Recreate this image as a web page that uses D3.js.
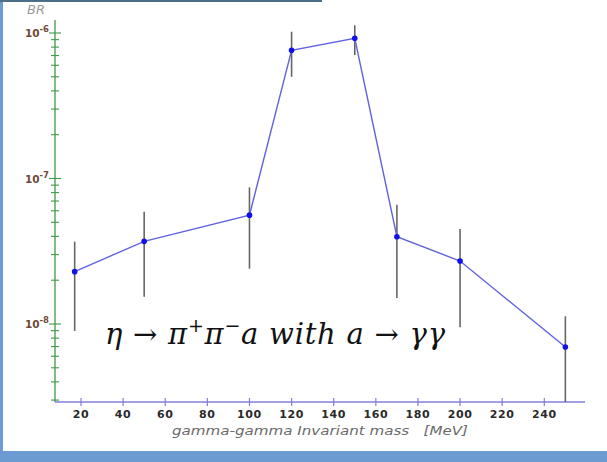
<!DOCTYPE html>
<html><head><meta charset="utf-8">
<script src="https://cdn.jsdelivr.net/npm/d3@7"></script>
<style>body{margin:0;background:#fff}svg{display:block}</style>
</head><body>
<svg id="c" width="607" height="462"></svg>
<script>
const mass = [17, 50, 100, 120, 150, 170, 200, 250];
const br = [2.29e-8, 3.7e-8, 5.6e-8, 7.6e-7, 9.2e-7, 3.98e-8, 2.71e-8, 6.95e-9];
const brUp = [3.68e-8, 5.9e-8, 8.7e-8, 1.02e-6, 1.13e-6, 6.6e-8, 4.5e-8, 1.13e-8];
const brLo = [0.895e-8, 1.54e-8, 2.4e-8, 5.0e-7, 7.06e-7, 1.51e-8, 0.95e-8, 2.9e-9];
const xTicks = [20, 40, 60, 80, 100, 120, 140, 160, 180, 200, 220, 240];
const yMajor = [1e-8, 1e-7, 1e-6];
const yExp = ["-8", "-7", "-6"];

const svg = d3.select("#c");
// frame
svg.append("rect").attr("x",0).attr("y",0).attr("width",3).attr("height",462).attr("fill","#6c9bd2");
svg.append("rect").attr("x",0).attr("y",451).attr("width",607).attr("height",11).attr("fill","#6c9bd2");
svg.append("rect").attr("x",0).attr("y",0).attr("width",322).attr("height",2).attr("fill","#4d6f86");

const x = d3.scaleLinear().domain([20,240]).range([81,544.3]);
const y = d3.scaleLog().domain([1e-8,1e-6]).range([324,33]);
const y0 = 402, yTop = 20;
const clipLo = y.invert(y0);

// y axis
const g = svg.append("g");
g.append("line").attr("x1",55).attr("x2",55).attr("y1",yTop).attr("y2",y0).attr("stroke","#3f9a48").attr("stroke-width",1.3);
const minor = [];
for (let e=-9; e<=-6; e++) for (let k=1;k<=9;k++){ const v=k*Math.pow(10,e); if (v>=clipLo && y(v)>=yTop+4) minor.push(v); }
const isMajor = d => yMajor.some(m => Math.abs(m-d)/m < 1e-6);
g.selectAll(".mt").data(minor).enter().append("line")
  .attr("x1",d=>isMajor(d)?49:51).attr("x2",d=>isMajor(d)?61:59)
  .attr("y1",d=>y(d)).attr("y2",d=>y(d)).attr("stroke","#3f9a48").attr("stroke-width",1.1);
yMajor.forEach((v,i)=>{
  const t = g.append("text").attr("x",49).attr("y",y(v)+4).attr("text-anchor","end")
    .attr("font-family","DejaVu Sans").attr("font-weight","bold").attr("font-size",10.5).attr("fill","#6e4a36");
  t.append("tspan").text("10");
  t.append("tspan").attr("dy",-5).attr("font-size",8.5).text(yExp[i]);
});
g.append("text").attr("x",27).attr("y",14).attr("font-family","DejaVu Sans").attr("font-style","italic")
  .attr("font-size",13).attr("fill","#9a9a9a").text("BR");

// x axis
svg.append("line").attr("x1",55).attr("x2",585).attr("y1",y0).attr("y2",y0).attr("stroke","#8080d8").attr("stroke-width",1.5);
svg.selectAll(".xt").data(xTicks).enter().append("line")
  .attr("x1",d=>x(d)).attr("x2",d=>x(d)).attr("y1",y0-4).attr("y2",y0+4).attr("stroke","#8080d8").attr("stroke-width",1.2);
svg.selectAll(".xl").data(xTicks).enter().append("text")
  .attr("x",d=>x(d)).attr("y",y0+16).attr("text-anchor","middle")
  .attr("font-family","DejaVu Sans").attr("font-weight","bold").attr("font-size",11).attr("letter-spacing",0.6)
  .attr("fill","#2a2a2a").text(d=>d);
svg.append("text").attr("x",172).attr("y",435)
  .attr("font-family","DejaVu Sans").attr("font-style","italic").attr("font-size",13).attr("fill","#6a6a6a")
  .attr("textLength",296).attr("lengthAdjust","spacingAndGlyphs")
  .attr("xml:space","preserve").text("gamma-gamma Invariant mass   [MeV]");

// error bars
svg.selectAll(".eb").data(mass).enter().append("line")
  .attr("x1",d=>x(d)).attr("x2",d=>x(d))
  .attr("y1",(d,i)=>y(brUp[i])).attr("y2",(d,i)=>Math.min(y0,y(brLo[i])))
  .attr("stroke","#666").attr("stroke-width",1.6);
// line
const pts = mass.map((m,i)=>[m,br[i]]);
svg.append("path").datum(pts).attr("fill","none").attr("stroke","#6262e0").attr("stroke-width",1.4)
  .attr("d", d3.line().x(d=>x(d[0])).y(d=>y(d[1])));
svg.selectAll(".pt").data(pts).enter().append("circle")
  .attr("cx",d=>x(d[0])).attr("cy",d=>y(d[1])).attr("r",2.8).attr("fill","#1010e8");

// equation
const eq = svg.append("text").attr("x",105).attr("y",344).attr("font-family","DejaVu Serif")
  .attr("font-size",29).attr("fill","#111").attr("xml:space","preserve")
  .attr("textLength",340).attr("lengthAdjust","spacing");
eq.append("tspan").attr("font-style","italic").text("η");
eq.append("tspan").text(" → ");
eq.append("tspan").attr("font-style","italic").text("π");
eq.append("tspan").attr("dy",-12).attr("font-size",19).text("+");
eq.append("tspan").attr("dy",12).attr("font-style","italic").text("π");
eq.append("tspan").attr("dy",-12).attr("font-size",19).text("−");
eq.append("tspan").attr("dy",12).attr("font-style","italic").text("a with a");
eq.append("tspan").text(" → ");
eq.append("tspan").attr("font-style","italic").text("γγ");
</script>
</body></html>
